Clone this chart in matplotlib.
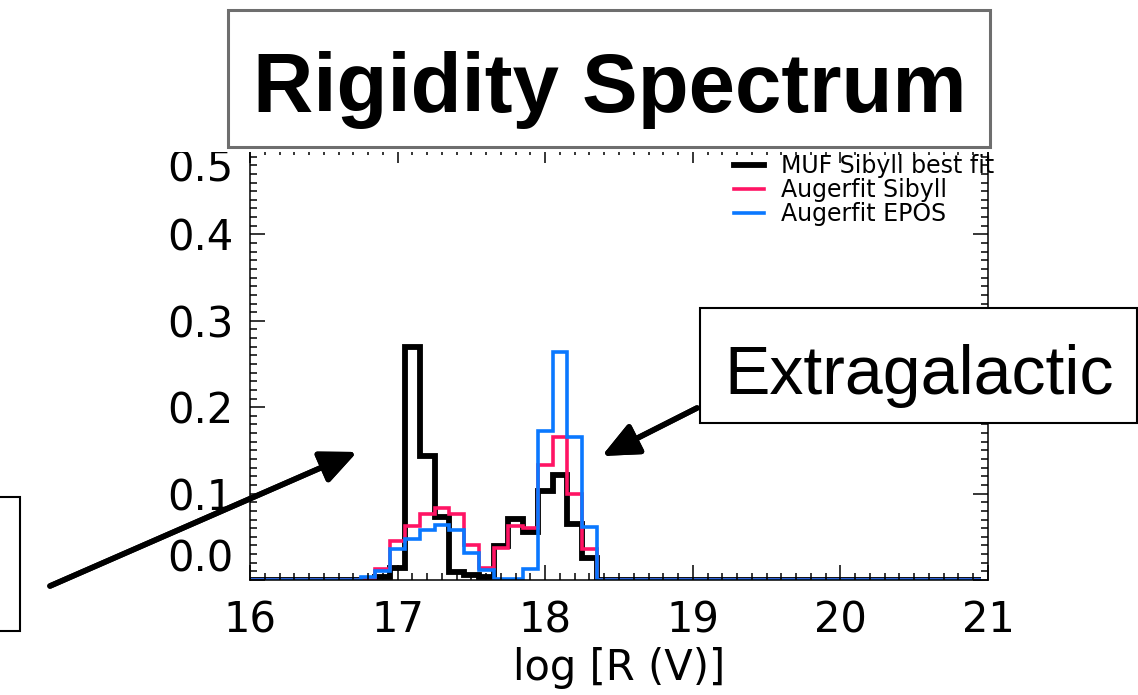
import matplotlib
matplotlib.use("Agg")
import matplotlib.pyplot as plt
import numpy as np
from matplotlib.patches import Rectangle

# histogram bins: 0.1 wide, centres 16.0 ... 20.9
bin_edges = np.round(np.arange(15.95, 21.0, 0.1), 2)
n_before = 8   # empty bins below log R = 16.75
n_after = 26   # empty bins above log R = 18.35

# non-empty part, bin centres 16.8 ... 18.3
muf_sibyll = [0.000, 0.004, 0.014, 0.270, 0.143, 0.073, 0.009, 0.006,
              0.004, 0.039, 0.071, 0.056, 0.103, 0.122, 0.065, 0.025]
auger_sibyll = [0.002, 0.013, 0.045, 0.062, 0.076, 0.083, 0.076, 0.040,
                0.014, 0.037, 0.063, 0.060, 0.133, 0.166, 0.099, 0.036]
auger_epos = [0.003, 0.010, 0.036, 0.048, 0.058, 0.064, 0.058, 0.031,
              0.011, 0.001, 0.001, 0.013, 0.172, 0.264, 0.166, 0.061]

labels = ["MUF Sibyll best fit", "Augerfit Sibyll", "Augerfit EPOS"]
colors = ["black", "#ff1464", "#0a78ff"]
widths = [4.2, 2.6, 2.6]

x_ticks = [16, 17, 18, 19, 20, 21]
y_ticks = [0.0, 0.1, 0.2, 0.3, 0.4, 0.5]

W, H = 1138, 695


def fx(x):
    return x / W


def fy(y):
    return 1 - y / H


def pad(v):
    return np.concatenate([np.zeros(n_before), v, np.zeros(n_after)])


fig = plt.figure(figsize=(W / 100, H / 100), dpi=100)
ax = fig.add_axes([fx(250), fy(580), (988 - 250) / W, (580 - 148) / H])

for vals, lab, col, lw in zip([muf_sibyll, auger_sibyll, auger_epos], labels, colors, widths):
    ax.stairs(pad(vals), bin_edges, color=col, lw=lw, label=lab, baseline=None)

ax.set_xlim(16, 21)
ax.set_ylim(0, 0.5)
ax.set_xticks(x_ticks)
ax.set_xticklabels([str(t) for t in x_ticks])
ax.set_yticks(y_ticks)
ax.set_yticklabels([f"{t:.1f}" for t in y_ticks])
ax.set_xticks(np.round(np.arange(16, 21.01, 0.1), 1), minor=True)
ax.set_yticks(np.round(np.arange(0, 0.501, 0.01), 2), minor=True)
ax.tick_params(which="both", direction="in", top=True, right=True, width=1.1)
ax.tick_params(which="major", length=11)
ax.tick_params(which="minor", length=5)
ax.tick_params(axis="y", labelsize=30, pad=12)
ax.tick_params(axis="x", labelsize=30, pad=14)
for s in ax.spines.values():
    s.set_linewidth(1.1)

# end labels pulled inside the axis range
yl = ax.get_yticklabels()
yl[0].set_va("bottom")
yl[-1].set_va("top")

ax.set_xlabel("log [R (V)]", fontsize=30, labelpad=4)

ax.legend(loc="upper right", bbox_to_anchor=(fx(994), fy(154)), bbox_transform=fig.transFigure,
          frameon=False, fontsize=17, handlelength=1.3, handletextpad=0.7,
          labelspacing=0.0, borderpad=0, borderaxespad=0)

# slide overlays
fig.add_artist(Rectangle((0, fy(151.5)), 1, 151.5 / H, transform=fig.transFigure,
                         facecolor="white", edgecolor="none", zorder=1))
fig.add_artist(Rectangle((fx(228), fy(147)), (990 - 228) / W, (147 - 10) / H,
                         transform=fig.transFigure, facecolor="white",
                         edgecolor="#6e6e6e", lw=2.2, zorder=2))
fig.text(fx(610), fy(112), "Rigidity Spectrum", fontsize=60, fontweight="bold",
         family="Liberation Sans", ha="center", va="baseline", zorder=3)

fig.add_artist(Rectangle((fx(700), fy(423)), (1137 - 700) / W, (423 - 308) / H,
                         transform=fig.transFigure, facecolor="white",
                         edgecolor="black", lw=1.5, zorder=2))
fig.text(fx(919), fy(394), "Extragalactic", fontsize=49, family="Liberation Sans",
         ha="center", va="baseline", zorder=3)

fig.add_artist(Rectangle((fx(-20), fy(631)), 40 / W, (631 - 497) / H,
                         transform=fig.transFigure, facecolor="white",
                         edgecolor="black", lw=1.5, zorder=2))

arrow = dict(arrowstyle="-|>,head_length=0.4,head_width=0.18", color="black",
             lw=4, mutation_scale=55, shrinkA=0, shrinkB=0)
fig.add_artist(plt.annotate("", xy=(fx(357), fy(452)), xytext=(fx(50), fy(586)),
                            xycoords="figure fraction", arrowprops=arrow))
fig.add_artist(plt.annotate("", xy=(fx(602), fy(456)), xytext=(fx(697), fy(408)),
                            xycoords="figure fraction", arrowprops=arrow))

fig.savefig("out.png", dpi=100)
